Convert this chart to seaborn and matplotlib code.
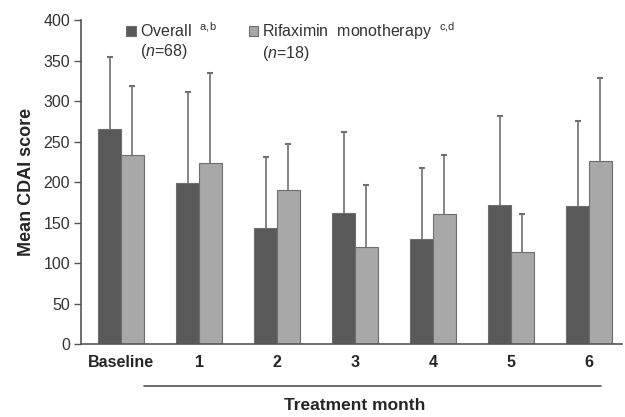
import matplotlib
matplotlib.use("Agg")
import matplotlib.pyplot as plt
import numpy as np
import pandas as pd
import seaborn as sns

# Data
months = ["Baseline", "1", "2", "3", "4", "5", "6"]
overall_mean = [265, 199, 143, 162, 130, 172, 170]
overall_sd = [89, 112, 88, 100, 87, 109, 105]
rifax_mean = [233, 223, 190, 120, 160, 113, 226]
rifax_sd = [86, 111, 57, 76, 73, 47, 102]
groups = ["Overall", "Rifaximin monotherapy"]
group_n = [68, 18]
group_sup = ["a,b", "c,d"]

df = pd.DataFrame({
    "month": months * 2,
    "score": overall_mean + rifax_mean,
    "sd": overall_sd + rifax_sd,
    "group": [groups[0]] * len(months) + [groups[1]] * len(months),
})

sns.set_style("white")
plt.rcParams["font.family"] = ["Liberation Sans", "DejaVu Sans"]
plt.rcParams["mathtext.fontset"] = "custom"
plt.rcParams["mathtext.rm"] = "Liberation Sans"
plt.rcParams["mathtext.it"] = "Liberation Sans:italic"

fig = plt.figure(figsize=(6.25, 4.17), dpi=100)
ax = fig.add_axes([0.13, 0.175, 0.995 - 0.13, 0.952 - 0.175])

palette = {groups[0]: "#595959", groups[1]: "#a8a8a8"}
sns.barplot(data=df, x="month", y="score", hue="group", palette=palette,
            width=0.58, errorbar=None, edgecolor="#6e6e6e", linewidth=0.8,
            saturation=1, ax=ax, legend=True)

# upward-only error bars: stem from bar top plus a small cap
for cont, g in zip(ax.containers, groups):
    sub = df[df["group"] == g]
    xs = np.array([p.get_x() + p.get_width() / 2 for p in cont.patches])
    tops = sub["score"].values + sub["sd"].values
    ax.vlines(xs, sub["score"].values, tops, color="#707070", lw=1.2, zorder=3)
    ax.plot(xs, tops, ls="none", marker="_", ms=5, mew=1.5, color="#707070",
            zorder=3)

ax.set_ylim(0, 400)
ax.set_yticks(range(0, 401, 50))
ax.set_xlim(-0.51, 6.42)
sns.despine(ax=ax)
for s in ["left", "bottom"]:
    ax.spines[s].set_color("#555555")
    ax.spines[s].set_linewidth(1.2)
ax.tick_params(axis="y", direction="out", length=5, width=1, color="#555555",
               labelsize=11.5, labelcolor="#333333", left=True, pad=3)
ax.tick_params(axis="x", length=0, labelsize=11.5, pad=8)
for t in ax.get_xticklabels():
    t.set_fontweight("bold")
ax.set_xlabel("")
ax.set_ylabel("Mean CDAI score", fontsize=13, fontweight="bold", labelpad=6)

# legend
handles, _ = ax.get_legend_handles_labels()
labels = [g.replace(" ", "  ") + r"  $^{\mathrm{" + s.replace(",", "{,}") + "}}$"
          for g, s in zip(groups, group_sup)]
leg = ax.legend(handles, labels, loc="upper left", bbox_to_anchor=(0.057, 1.045),
                ncol=2, frameon=False, fontsize=11.5, handlelength=0.6,
                handleheight=0.6, handletextpad=0.25, columnspacing=2.0,
                labelcolor="#333333")
fig.canvas.draw()
inv = fig.transFigure.inverted()
for txt, n in zip(leg.get_texts(), group_n):
    bb = txt.get_window_extent()
    x0, y0 = inv.transform((bb.x0, bb.y0))
    fig.text(x0, y0 - 0.006, r"($\it{n}$=" + str(n) + ")", fontsize=11.5,
             color="#333333", va="top", ha="left")

# treatment month bracket
ax.plot([0.3, 6.15], [-0.13, -0.13], transform=ax.get_xaxis_transform(),
        color="#555555", lw=1.2, clip_on=False)
ax.text(3.0, -0.19, "Treatment month", transform=ax.get_xaxis_transform(),
        ha="center", va="center", fontsize=12.5, fontweight="bold")

fig.savefig("out.png", dpi=100)
